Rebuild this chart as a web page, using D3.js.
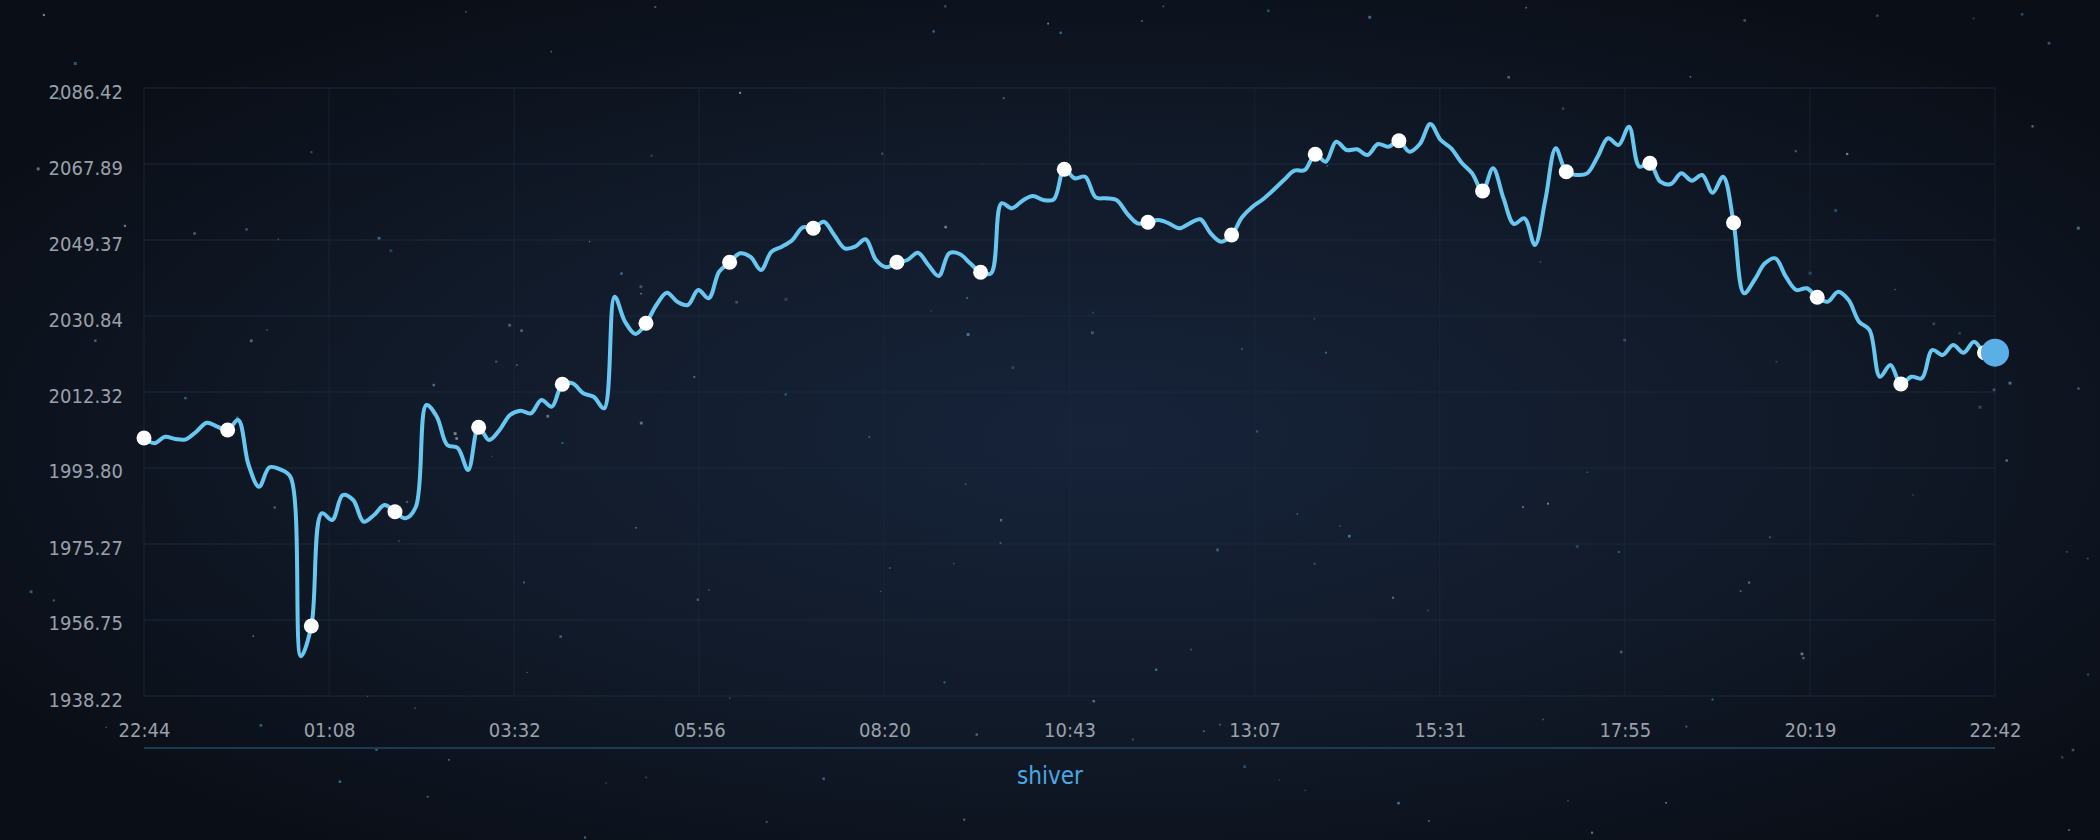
<!DOCTYPE html>
<html><head><meta charset="utf-8">
<script src="https://cdn.jsdelivr.net/npm/d3@7"></script>
<style>
html,body{margin:0;padding:0;background:#0b0f17;}
svg{display:block;}
text{font-family:'DejaVu Sans Condensed','DejaVu Sans',sans-serif;font-stretch:condensed;}
</style></head><body>
<svg id="chart" width="2100" height="840"></svg>
<script>
// ---- data ----
const seriesName = "shiver";
const values = [
2001.11,1999.82,2001.42,2000.86,2000.79,2002.64,2004.84,2003.86,
2003.06,2005.49,1994.53,1989.24,1993.97,1993.48,1991.67,1947.90,
1955.28,1982.75,1981.12,1987.21,1985.99,1980.71,1982.34,1984.78,
1983.14,1981.53,1984.36,2009.15,2006.30,1999.40,1998.67,1993.31,
2003.72,2000.62,2003.06,2006.71,2007.76,2007.13,2010.37,2008.74,
2014.20,2014.44,2012.00,2011.17,2008.35,2035.55,2029.46,2026.46,
2029.07,2033.53,2036.52,2034.33,2033.53,2037.18,2035.16,2041.64,
2043.93,2046.13,2045.23,2042.06,2046.52,2047.74,2049.37,2052.47,
2052.22,2053.83,2050.59,2047.35,2047.74,2049.54,2044.49,2042.72,
2043.93,2044.49,2046.27,2043.28,2040.59,2046.13,2045.96,2043.69,
2041.50,2041.25,2058.32,2057.10,2058.95,2060.09,2059.12,2059.29,
2066.60,2064.41,2064.80,2059.78,2059.53,2059.12,2055.88,2053.44,
2053.68,2054.24,2053.44,2052.22,2053.44,2054.42,2051.00,2048.96,
2050.59,2054.90,2057.49,2059.29,2061.56,2063.99,2066.26,2066.43,
2070.26,2068.46,2073.33,2071.31,2071.48,2070.09,2072.77,2072.11,
2073.57,2070.89,2072.77,2077.64,2073.74,2071.72,2068.21,2065.63,
2061.31,2066.85,2059.53,2053.27,2054.66,2048.15,2059.12,2071.72,
2066.02,2065.21,2065.63,2069.67,2074.16,2072.53,2076.99,2067.24,
2068.07,2063.58,2063.02,2065.63,2063.82,2065.21,2060.90,2064.80,
2053.59,2036.38,2039.62,2043.69,2044.91,2040.42,2037.18,2037.60,
2035.40,2034.33,2036.77,2034.74,2029.46,2027.43,2016.05,2018.90,
2014.27,2016.05,2015.66,2022.56,2021.34,2023.78,2021.90,2024.58,
2021.90,2021.90
];
const xTickLabels = ["22:44","01:08","03:32","05:56","08:20","10:43","13:07","15:31","17:55","20:19","22:42"];
const yTickValues = [1938.22,1956.75,1975.27,1993.80,2012.32,2030.84,2049.37,2067.89,2086.42];
const markerEvery = 8;

(function(){
// ---- layout ----
const W = 2100, H = 840;
const pL = 144, pR = 1995, pT = 88, pB = 696;
const svg = d3.select("#chart");

// background
const defs = svg.append("defs");
const rg = defs.append("radialGradient").attr("id","bg")
  .attr("cx","52%").attr("cy","52%").attr("r","62%");
rg.append("stop").attr("offset","0%").attr("stop-color","#162339");
rg.append("stop").attr("offset","55%").attr("stop-color","#111a29");
rg.append("stop").attr("offset","100%").attr("stop-color","#0a0e16");
svg.append("rect").attr("width",W).attr("height",H).attr("fill","url(#bg)");

// decorative stars (seeded, deterministic)
let seed = 12345;
function rnd(){ seed = (seed*1664525 + 1013904223) % 4294967296; return seed/4294967296; }
const starG = svg.append("g");
for (let i=0;i<170;i++){
  const sx = rnd()*W, sy = rnd()*H, s = 1.2 + rnd()*1.8;
  const c = rnd() < 0.6 ? "#4f8fb8" : "#8fa2b8";
  starG.append("rect").attr("x",sx).attr("y",sy).attr("width",s).attr("height",s)
    .attr("fill",c).attr("opacity",0.3 + rnd()*0.5);
}

// scales
const x = d3.scaleLinear().domain([0, values.length-1]).range([pL, pR]);
const y = d3.scaleLinear().domain([yTickValues[0], yTickValues[yTickValues.length-1]]).range([pB, pT]);
const xTickPos = xTickLabels.map((l,k)=> k*(values.length-1)/(xTickLabels.length-1));

// grid
const grid = svg.append("g");
grid.selectAll("line.h").data(yTickValues).join("line").attr("class","h")
  .attr("x1",pL).attr("x2",pR).attr("y1",d=>y(d)).attr("y2",d=>y(d))
  .attr("stroke","#1e2c3f").attr("stroke-opacity",0.55).attr("stroke-width",1.5);
grid.selectAll("line.v").data(xTickPos).join("line").attr("class","v")
  .attr("y1",pT).attr("y2",pB).attr("x1",d=>x(d)).attr("x2",d=>x(d))
  .attr("stroke","#1e2c3f").attr("stroke-opacity",0.4).attr("stroke-width",1.5);

// y axis
const yAxis = svg.append("g").attr("transform",`translate(${pL},0)`)
  .call(d3.axisLeft(y).tickValues(yTickValues).tickFormat(d3.format(".2f")).tickSize(0).tickPadding(21));
yAxis.select(".domain").remove();
yAxis.selectAll("text").attr("fill","#9aa1aa").style("font-size","20px").attr("dy","0.5em");

// x axis
const xAxis = svg.append("g").attr("transform",`translate(0,${pB})`)
  .call(d3.axisBottom(x).tickValues(xTickPos).tickFormat((d,k)=>xTickLabels[k]).tickSize(0).tickPadding(27));
xAxis.select(".domain").remove();
xAxis.selectAll("text").attr("fill","#9aa1aa").style("font-size","20px");

// axis baseline
svg.append("line").attr("x1",pL).attr("x2",pR).attr("y1",748).attr("y2",748)
  .attr("stroke","#1d3a55").attr("stroke-width",2);

// series label
svg.append("text").attr("x",1050).attr("y",784).attr("text-anchor","middle")
  .attr("fill","#4ea6e0").style("font-size","24px").text(seriesName);

// line
const line = d3.line().x((d,i)=>x(i)).y(d=>y(d)).curve(d3.curveCatmullRom.alpha(0.5));
svg.append("path").datum(values).attr("d",line)
  .attr("fill","none").attr("stroke","#68c7f1").attr("stroke-width",4)
  .attr("stroke-linejoin","round").attr("stroke-linecap","round");

// markers
const marked = values.map((v,i)=>({v,i})).filter(d=>d.i % markerEvery === 0);
svg.append("g").selectAll("circle").data(marked).join("circle")
  .attr("cx",d=>x(d.i)).attr("cy",d=>y(d.v)).attr("r",7.5).attr("fill","#ffffff");

// end point
const last = values.length-1;
svg.append("circle").attr("cx",x(last)).attr("cy",y(values[last])).attr("r",14).attr("fill","#5aafe6");
})();
</script>
</body></html>
